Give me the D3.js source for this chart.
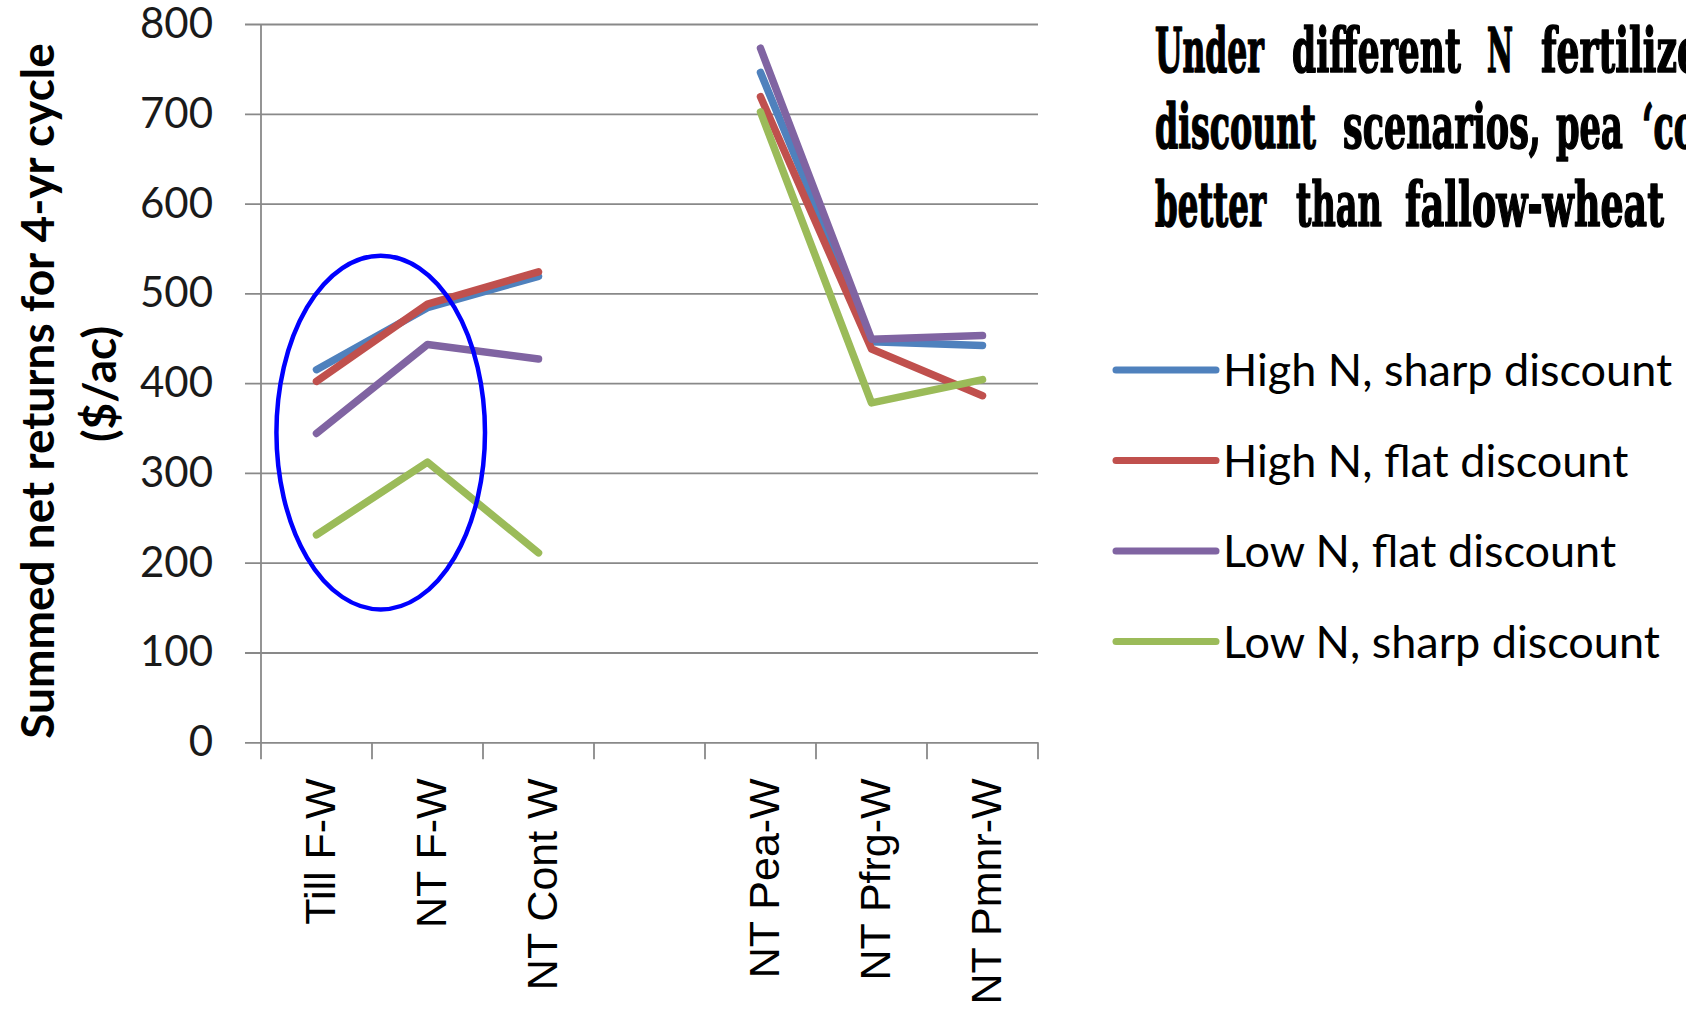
<!DOCTYPE html>
<html>
<head>
<meta charset="utf-8">
<script src="https://cdn.jsdelivr.net/npm/d3@7"></script>
<style>
  html, body { margin: 0; padding: 0; background: #ffffff; overflow: hidden; }
  svg { display: block; }
</style>
</head>
<body>
<svg id="chart" width="1686" height="1010"></svg>
<script>
// ---- data -------------------------------------------------------------
const categories = ["Till F-W", "NT F-W", "NT Cont W", "", "NT Pea-W", "NT Pfrg-W", "NT Pmnr-W"];
const seriesNames = ["High N, sharp discount", "High N, flat discount", "Low N, flat discount", "Low N, sharp discount"];
const highNSharp = [415, 484, 519, null, 746, 446, 442];
const highNFlat  = [402, 488, 524, null, 719, 438, 386];
const lowNFlat   = [344, 443, 427, null, 773, 449, 453];
const lowNSharp  = [231, 312, 211, null, 702, 378, 404];
const seriesColors = ["#4F81BD", "#C0504D", "#8064A2", "#9BBB59"];
const yTicks = [0, 100, 200, 300, 400, 500, 600, 700, 800];
const yTitle = ["Summed net returns for 4-yr cycle", "($/ac)"];
const noteLines = [
  ["Under", "different", "N", "fertilize"],
  ["discount", "scenarios,", "pea", "\u2018co"],
  ["better", "than", "fallow-wheat"]
];

const seriesValues = [highNSharp, highNFlat, lowNFlat, lowNSharp];

// ---- layout -----------------------------------------------------------
const svg = d3.select("#chart");
const plot = { left: 261, right: 1038, top: 24, bottom: 742.3 };

const x = d3.scaleBand()
  .domain(d3.range(categories.length))
  .range([plot.left, plot.right])
  .paddingInner(0).paddingOuter(0);

const y = d3.scaleLinear()
  .domain([0, 800])
  .range([plot.bottom, plot.top]);

const grey = "#898989";

// horizontal gridlines, extending left of the axis as tick marks
const yAxis = d3.axisLeft(y)
  .tickValues(yTicks)
  .tickSizeInner(-(plot.right - (plot.left - 16)))
  .tickSizeOuter(0)
  .tickPadding(32)
  .tickFormat(d3.format("d"));

const gy = svg.append("g")
  .attr("transform", `translate(${plot.left - 16},0)`)
  .call(yAxis);
gy.select(".domain").remove();
gy.selectAll(".tick line").attr("stroke", grey).attr("stroke-width", 1.8);
gy.selectAll(".tick text")
  .attr("font-family", "Lato, 'Open Sans', sans-serif")
  .attr("font-size", 42)
  .attr("fill", "#1a1a1a");

// vertical axis line
svg.append("line")
  .attr("x1", plot.left).attr("x2", plot.left)
  .attr("y1", y(800)).attr("y2", y(0))
  .attr("stroke", grey).attr("stroke-width", 1.8);

// category boundary tick marks on the x axis
const boundaries = d3.range(categories.length + 1).map(i =>
  i < categories.length ? x(i) : x.range()[1]);
svg.append("g").selectAll("line")
  .data(boundaries)
  .join("line")
  .attr("x1", d => d).attr("x2", d => d)
  .attr("y1", y(0)).attr("y2", y(0) + 17)
  .attr("stroke", grey).attr("stroke-width", 1.8);

// rotated category labels
svg.append("g").selectAll("text")
  .data(categories.map((c, i) => ({ c, i })).filter(d => d.c !== ""))
  .join("text")
  .attr("transform", d => `translate(${x(d.i) + x.bandwidth() / 2 + 18},${y(0) + 36}) rotate(-90)`)
  .attr("text-anchor", "end")
  .attr("font-family", "'Liberation Sans', Arial, sans-serif")
  .attr("font-size", 43)
  .attr("fill", "#000")
  .text(d => d.c);

// y-axis title (two lines, rotated)
const titleG = svg.append("g")
  .attr("font-family", "Lato, 'Open Sans', sans-serif")
  .attr("font-weight", "bold")
  .attr("font-size", 46)
  .attr("fill", "#000")
  .attr("text-anchor", "middle");
titleG.append("text")
  .attr("transform", "translate(54,391) rotate(-90)")
  .text(yTitle[0]);
titleG.append("text")
  .attr("transform", "translate(116,384) rotate(-90)")
  .text(yTitle[1]);

// series lines
const line = d3.line()
  .defined(d => d.v !== null)
  .x(d => x(d.i) + x.bandwidth() / 2)
  .y(d => y(d.v));

svg.append("g").selectAll("path")
  .data(seriesValues)
  .join("path")
  .attr("d", vals => line(vals.map((v, i) => ({ v, i }))))
  .attr("fill", "none")
  .attr("stroke", (d, i) => seriesColors[i])
  .attr("stroke-width", 7.5)
  .attr("stroke-linejoin", "round")
  .attr("stroke-linecap", "round");

// highlight ellipse around the fallow-wheat systems
const ringLeft = x(0) + 0.139 * x.bandwidth();
const ringRight = x(0) + 2.018 * x.bandwidth();
const ringTop = y(542), ringBottom = y(148);
svg.append("ellipse")
  .attr("cx", (ringLeft + ringRight) / 2)
  .attr("cy", (ringTop + ringBottom) / 2)
  .attr("rx", (ringRight - ringLeft) / 2)
  .attr("ry", (ringBottom - ringTop) / 2)
  .attr("fill", "none")
  .attr("stroke", "#0000FF")
  .attr("stroke-width", 4.5);

// legend
const legend = svg.append("g")
  .attr("font-family", "Lato, 'Open Sans', sans-serif")
  .attr("font-size", 45)
  .attr("fill", "#000");
const legendRowY = [370, 460.5, 551, 641.5];
seriesNames.forEach((name, i) => {
  const row = legend.append("g").attr("transform", `translate(0,${legendRowY[i]})`);
  row.append("line")
    .attr("x1", 1116).attr("x2", 1216)
    .attr("y1", 0).attr("y2", 0)
    .attr("stroke", seriesColors[i])
    .attr("stroke-width", 7)
    .attr("stroke-linecap", "round");
  row.append("text")
    .attr("x", 1223).attr("y", 16)
    .text(name);
});

// headline note at the upper right (runs off the right edge);
// each word is squeezed horizontally into its column span
const noteLayout = [
  { baseline: 72,  spans: [[1155, 1264], [1292, 1461], [1487, 1513], [1541, 1700]] },
  { baseline: 148, spans: [[1155, 1316], [1343, 1541], [1556, 1623], [1642, 1696]] },
  { baseline: 226, spans: [[1155, 1266], [1296, 1382], [1405, 1664]] }
];
const note = svg.append("g")
  .attr("font-family", "'DejaVu Serif Condensed', 'DejaVu Serif', serif")
  .attr("font-weight", "bold")
  .attr("font-size", 62)
  .attr("fill", "#000")
  .attr("stroke", "#000")
  .attr("stroke-width", 1.6)
  .attr("stroke-linejoin", "round");
noteLines.forEach((words, li) => {
  const lay = noteLayout[li];
  words.forEach((w, wi) => {
    const [a, b] = lay.spans[wi];
    const t = note.append("text").attr("x", 0).attr("y", 0).text(w);
    const natural = t.node().getComputedTextLength();
    t.attr("transform", `translate(${a},${lay.baseline}) scale(${(b - a) / natural},1)`);
  });
});
</script>
</body>
</html>
